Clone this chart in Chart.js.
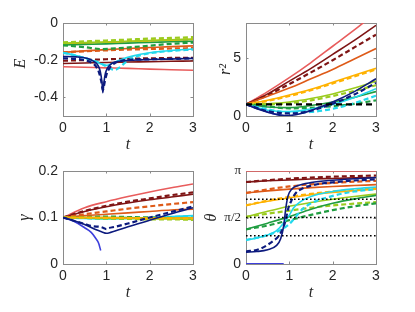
<!DOCTYPE html>
<html><head><meta charset="utf-8">
<script src="https://cdn.jsdelivr.net/npm/chart.js@4.4.1/dist/chart.umd.min.js"></script>
<style>
body{margin:0;background:#fff;width:415px;height:312px;position:relative;overflow:hidden}
canvas{position:absolute}
</style></head>
<body>
<canvas id="cE" width="205" height="156" style="left:0;top:0"></canvas>
<canvas id="cR" width="215" height="156" style="left:200px;top:0"></canvas>
<canvas id="cG" width="205" height="162" style="left:0;top:150px"></canvas>
<canvas id="cT" width="215" height="162" style="left:200px;top:150px"></canvas>
<script>
// ---------- data ----------
const tc = [0,0.5,1,1.5,2,2.5,3];
const PI = Math.PI;

// Energy E
const E_lred   = [-0.235,-0.238,-0.241,-0.244,-0.248,-0.251,-0.254];
const E_dred   = [-0.218,-0.215,-0.212,-0.21,-0.208,-0.206,-0.204];
const E_dred_d = [-0.203,-0.199,-0.195,-0.192,-0.19,-0.188,-0.187];
const E_ored   = [-0.158,-0.15,-0.143,-0.137,-0.132,-0.127,-0.123];
const E_ored_d = [-0.158,-0.152,-0.147,-0.143,-0.14,-0.137,-0.135];
const E_orng   = [-0.112,-0.108,-0.104,-0.1,-0.096,-0.092,-0.089];
const E_orng_d = [-0.11,-0.106,-0.102,-0.098,-0.094,-0.09,-0.087];
const E_ygrn   = [-0.108,-0.105,-0.102,-0.098,-0.094,-0.09,-0.086];
const E_ygrn_d = [-0.104,-0.099,-0.094,-0.089,-0.084,-0.08,-0.076];
const E_grn    = [-0.118,-0.115,-0.112,-0.108,-0.105,-0.101,-0.098];
const E_grn_d_t = [0,0.5,0.9,1.3,2,2.5,3];
const E_grn_d  = [-0.12,-0.13,-0.14,-0.135,-0.122,-0.112,-0.105];
const E_cyan_t = [0,0.3,0.6,0.8,0.9,1.0,1.1,1.3,1.6,2,2.5,3];
const E_cyan   = [-0.16,-0.175,-0.195,-0.212,-0.222,-0.228,-0.22,-0.2,-0.178,-0.16,-0.148,-0.14];
const E_cyan_d_t = [0,0.3,0.6,0.9,1.05,1.2,1.3,1.45,1.7,2,2.5,3];
const E_cyan_d = [-0.16,-0.175,-0.195,-0.22,-0.24,-0.252,-0.24,-0.21,-0.18,-0.163,-0.15,-0.143];
const E_navy_t = [0,0.3,0.55,0.7,0.8,0.86,0.9,0.92,0.94,0.97,1.02,1.1,1.2,1.4,1.8,2.4,3];
const E_navy   = [-0.18,-0.182,-0.19,-0.205,-0.225,-0.26,-0.32,-0.375,-0.33,-0.28,-0.245,-0.222,-0.21,-0.203,-0.198,-0.194,-0.19];
const E_navy_d_t = [0,0.3,0.5,0.65,0.75,0.83,0.88,0.92,0.96,1.0,1.08,1.2,1.35,1.6,2,2.5,3];
const E_navy_d = [-0.19,-0.193,-0.2,-0.212,-0.23,-0.265,-0.31,-0.36,-0.32,-0.28,-0.24,-0.215,-0.203,-0.197,-0.195,-0.193,-0.19];

// r^2
const R_lred   = [1,2.1,3.3,4.6,6.0,7.4,8.9];
const R_dred   = [1,1.9,3.0,4.1,5.3,6.5,7.8];
const R_dred_d = [1,1.8,2.75,3.75,4.8,5.9,7.0];
const R_ored   = [1,1.7,2.4,3.2,4.0,4.9,5.8];
const R_orng   = [1,1.35,1.8,2.3,2.9,3.5,4.1];
const R_orng_d = [1,1.3,1.72,2.22,2.8,3.4,4.0];
const R_ygrn   = [1,1.05,1.2,1.5,1.9,2.4,3.0];
const R_ygrn_d = [1,1.0,1.1,1.35,1.72,2.15,2.65];
const R_grn    = [1,0.78,0.72,0.9,1.2,1.6,2.1];
const R_grn_d  = [1,0.82,0.66,0.7,0.85,1.05,1.35];
const R_cyan   = [1,0.5,0.38,0.6,1.0,1.6,2.35];
const R_cyan_d = [1,0.58,0.3,0.35,0.62,1.1,1.75];
const R_navy_t = [0,0.25,0.5,0.75,0.9,1.05,1.25,1.5,2,2.5,3];
const R_navy   = [1,0.62,0.32,0.1,0.04,0.06,0.2,0.48,1.2,2.1,3.2];
const R_navy_d_t = [0,0.5,1,1.25,1.5,2,2.5,3];
const R_navy_d = [1,0.42,0.22,0.28,0.45,1.05,1.85,2.85];
const R_blue_t = [0,0.3,0.6,0.87];
const R_blue   = [1,0.6,0.22,0.02];
const R_ref_t  = [0,3];
const R_ref    = [1,1];

// gamma
const G_lred   = [0.1,0.121,0.134,0.145,0.155,0.164,0.172];
const G_dred   = [0.1,0.113,0.123,0.131,0.138,0.144,0.150];
const G_dred_d = [0.1,0.114,0.125,0.134,0.141,0.148,0.154];
const G_ored   = [0.1,0.104,0.107,0.110,0.113,0.116,0.118];
const G_ored_d = [0.1,0.107,0.113,0.119,0.124,0.129,0.133];
const G_orng   = [0.1,0.1,0.1,0.099,0.099,0.099,0.099];
const G_orng_d = [0.1,0.1,0.099,0.099,0.098,0.098,0.098];
const G_ygrn   = [0.1,0.099,0.098,0.098,0.097,0.097,0.096];
const G_ygrn_d = [0.1,0.099,0.098,0.097,0.096,0.096,0.095];
const G_grn    = [0.1,0.1,0.1,0.1,0.099,0.099,0.099];
const G_grn_d  = [0.1,0.101,0.102,0.101,0.1,0.099,0.098];
const G_cyan   = [0.1,0.098,0.097,0.098,0.1,0.102,0.104];
const G_cyan_d = [0.1,0.099,0.097,0.097,0.099,0.101,0.103];
const G_navy_t = [0,0.25,0.5,0.75,0.9,1.0,1.1,1.5,2,2.5,3];
const G_navy   = [0.1,0.093,0.085,0.074,0.069,0.066,0.068,0.08,0.094,0.108,0.121];
const G_navy_d_t = [0,0.25,0.5,0.7,0.85,0.95,1.0,1.05,1.2,1.5,2,2.5,3];
const G_navy_d = [0.1,0.093,0.086,0.081,0.08,0.077,0.075,0.077,0.08,0.087,0.1,0.112,0.124];
const G_blue_t = [0,0.25,0.5,0.65,0.75,0.82,0.87];
const G_blue   = [0.1,0.092,0.078,0.068,0.056,0.045,0.029];

// theta
const T_lred   = [PI,PI,PI,PI,PI,PI,PI];
const T_dred   = [2.77,2.81,2.84,2.87,2.89,2.91,2.92];
const T_dred_d = [2.77,2.83,2.88,2.92,2.95,2.97,2.99];
const T_ored   = [2.40,2.47,2.53,2.58,2.62,2.65,2.68];
const T_ored_d = [2.40,2.52,2.62,2.69,2.74,2.78,2.81];
const T_orng   = [1.98,2.12,2.24,2.34,2.42,2.48,2.53];
const T_orng_d = [1.98,2.14,2.27,2.37,2.45,2.51,2.56];
const T_ygrn   = [1.59,1.78,1.95,2.08,2.19,2.28,2.36];
const T_ygrn_d = [1.59,1.70,1.80,1.90,1.98,2.04,2.09];
const T_grn    = [1.17,1.38,1.6,1.85,2.05,2.2,2.32];
const T_grn_d  = [1.17,1.3,1.48,1.66,1.82,1.95,2.05];
const T_cyan_t = [0,0.25,0.5,0.7,0.85,1.0,1.1,1.25,1.5,2,2.5,3];
const T_cyan   = [0.81,0.88,0.98,1.12,1.35,1.65,1.9,2.1,2.28,2.45,2.54,2.6];
const T_cyan_d_t = [0,0.5,0.8,1.0,1.15,1.3,1.5,2,2.5,3];
const T_cyan_d = [0.81,0.98,1.15,1.35,1.6,1.85,2.05,2.3,2.45,2.53];
const T_navy_t = [0,0.25,0.5,0.7,0.8,0.87,0.92,0.97,1.05,1.2,1.5,2,2.5,3];
const T_navy   = [0.4,0.42,0.48,0.62,0.85,1.3,1.9,2.3,2.52,2.65,2.75,2.83,2.88,2.92];
const T_navy_d_t = [0,0.3,0.6,0.78,0.9,0.97,1.05,1.15,1.3,1.6,2,2.5,3];
const T_navy_d = [0.42,0.5,0.75,1.0,1.4,1.85,2.15,2.4,2.55,2.68,2.76,2.82,2.86];
const T_blue_t = [0,0.87];
const T_blue   = [0,0];
const T_ref_t  = [0,3];
const T_magic  = [0.9553, PI/2, 2.1863];

// ticks
const xTicks = [0,1,2,3];
const E_ticks = [0,-0.2,-0.4];
const R_ticks = [0,5];
const G_ticks = [0,0.1,0.2];
const T_ticks = [0, PI/2, PI];
const T_tickLabels = ['0','π/2','π'];

// ---------- styling ----------
const COL = {navy:'#0c1a7e', blue:'#3d3fdc', cyan:'#22d8ec', grn:'#1f9d40', ygrn:'#9acb1e',
             orng:'#ffb200', ored:'#de5a18', dred:'#7e1414', lred:'#e85c5c', black:'#000'};
const SANS = '"Liberation Sans", Arial, sans-serif';
const SERIF = '"Liberation Serif", "DejaVu Serif", serif';

function ser(ts, ys, color, dashed, opts) {
  return Object.assign({
    data: ts.map((t,i)=>({x:t, y:ys[i]})),
    borderColor: color,
    borderWidth: dashed ? 2.2 : 1.6,
    borderDash: dashed ? [5,3] : [],
    pointRadius: 0,
    fill: false,
    cubicInterpolationMode: 'monotone'
  }, opts || {});
}

const framePlugin = {
  id: 'frame',
  beforeDatasetsDraw(chart) {
    const {ctx, chartArea: a, scales} = chart;
    ctx.save();
    ctx.strokeStyle = '#8a8a8a';
    ctx.lineWidth = 1;
    ctx.strokeRect(Math.round(a.left)+0.5, Math.round(a.top)+0.5, Math.round(a.right-a.left), Math.round(a.bottom-a.top));
    const L = 2.5;
    ctx.beginPath();
    scales.x.ticks.forEach(tk => {
      if (tk.value <= scales.x.min || tk.value >= scales.x.max) return;
      const px = Math.round(scales.x.getPixelForValue(tk.value)) + 0.5;
      ctx.moveTo(px, a.bottom); ctx.lineTo(px, a.bottom - L);
      ctx.moveTo(px, a.top); ctx.lineTo(px, a.top + L);
    });
    scales.y.ticks.forEach(tk => {
      if (tk.value <= scales.y.min || tk.value >= scales.y.max) return;
      const py = Math.round(scales.y.getPixelForValue(tk.value)) + 0.5;
      ctx.moveTo(a.left, py); ctx.lineTo(a.left + L, py);
      ctx.moveTo(a.right, py); ctx.lineTo(a.right - L, py);
    });
    ctx.stroke();
    ctx.restore();
  }
};

function makeChart(id, datasets, cfg) {
  const tickFont = {family: SANS, size: 14};
  return new Chart(document.getElementById(id), {
    type: 'line',
    data: {datasets: datasets.slice().reverse()},
    plugins: [framePlugin],
    options: {
      responsive: false,
      animation: false,
      layout: {padding: {left: 0, right: cfg.padR, top: cfg.padT, bottom: 0}},
      plugins: {legend: {display: false}, tooltip: {enabled: false}},
      scales: {
        x: {
          type: 'linear', min: 0, max: 3,
          afterBuildTicks: s => { s.ticks = xTicks.map(v => ({value: v})); },
          afterFit: s => { s.height = cfg.xH; },
          grid: {display: false, drawTicks: false},
          border: {display: false},
          ticks: {color: '#262626', font: tickFont, padding: 4, maxRotation: 0},
          title: {display: true, text: 't', color: '#262626',
                  font: {family: SERIF, size: 16, style: 'italic', lineHeight: 1.2},
                  padding: {top: 0, bottom: cfg.xTitlePad}}
        },
        y: {
          type: 'linear', min: cfg.yMin, max: cfg.yMax,
          afterBuildTicks: s => { s.ticks = cfg.yTicks.map(v => ({value: v})); },
          afterFit: s => { s.width = cfg.yW; },
          grid: {display: false, drawTicks: false},
          border: {display: false},
          ticks: {color: '#262626', font: cfg.yTickFont || tickFont, padding: 5,
                  callback: cfg.yLabel || (v => String(v))},
          title: {display: true, text: cfg.yTitle, color: '#262626',
                  font: {family: SERIF, size: 16, style: 'italic', lineHeight: 1.2},
                  padding: {top: cfg.yTitlePad, bottom: 0}}
        }
      }
    }
  });
}

// ---- E panel ----
makeChart('cE', [
  ser(tc, E_lred, COL.lred, false),
  ser(tc, E_dred, COL.dred, false),
  ser(tc, E_dred_d, COL.dred, true),
  ser(tc, E_ored, COL.ored, false),
  ser(tc, E_ored_d, COL.ored, true),
  ser(tc, E_orng, COL.orng, false),
  ser(tc, E_orng_d, COL.orng, true),
  ser(tc, E_grn, COL.grn, false),
  ser(E_grn_d_t, E_grn_d, COL.grn, true),
  ser(tc, E_ygrn, COL.ygrn, false),
  ser(tc, E_ygrn_d, COL.ygrn, true),
  ser(E_cyan_t, E_cyan, COL.cyan, false),
  ser(E_cyan_d_t, E_cyan_d, COL.cyan, true),
  ser(E_navy_d_t, E_navy_d, COL.navy, true),
  ser(E_navy_t, E_navy, COL.navy, false)
], {padR: 12, padT: 23, xH: 40, yW: 63, yMin: -0.5, yMax: 0, yTicks: E_ticks,
    yTitle: '   E', yTitlePad: 11.2, xTitlePad: 1.5,
    yLabel: v => (v === 0 ? '0' : v.toFixed(1))});

// ---- r^2 panel ----
makeChart('cR', [
  ser(tc, R_lred, COL.lred, false),
  ser(tc, R_dred, COL.dred, false),
  ser(tc, R_dred_d, COL.dred, true),
  ser(tc, R_ored, COL.ored, false),
  ser(tc, R_orng, COL.orng, false),
  ser(tc, R_orng_d, COL.orng, true),
  ser(tc, R_ygrn, COL.ygrn, false),
  ser(tc, R_ygrn_d, COL.ygrn, true),
  ser(tc, R_grn, COL.grn, false),
  ser(tc, R_grn_d, COL.grn, true),
  ser(tc, R_cyan, COL.cyan, false),
  ser(tc, R_cyan_d, COL.cyan, true),
  ser(R_blue_t, R_blue, COL.blue, false),
  ser(R_navy_t, R_navy, COL.navy, false),
  ser(R_navy_d_t, R_navy_d, COL.navy, true),
  ser(R_ref_t, R_ref, COL.black, true, {borderWidth: 2.4, borderDash: [6,4], cubicInterpolationMode: 'default', tension: 0})
], {padR: 39, padT: 23, xH: 40, yW: 46, yMin: 0, yMax: 8, yTicks: R_ticks,
    yTitle: 'r²', yTitlePad: 16.2, xTitlePad: 1.5});

// ---- gamma panel ----
makeChart('cG', [
  ser(tc, G_lred, COL.lred, false),
  ser(tc, G_dred, COL.dred, false),
  ser(tc, G_dred_d, COL.dred, true),
  ser(tc, G_ored, COL.ored, false),
  ser(tc, G_ored_d, COL.ored, true),
  ser(tc, G_cyan, COL.cyan, false),
  ser(tc, G_cyan_d, COL.cyan, true),
  ser(tc, G_grn, COL.grn, false),
  ser(tc, G_grn_d, COL.grn, true),
  ser(tc, G_ygrn, COL.ygrn, false),
  ser(tc, G_ygrn_d, COL.ygrn, true),
  ser(tc, G_orng, COL.orng, false),
  ser(tc, G_orng_d, COL.orng, true),
  ser(G_blue_t, G_blue, COL.blue, false),
  ser(G_navy_t, G_navy, COL.navy, false),
  ser(G_navy_d_t, G_navy_d, COL.navy, true)
], {padR: 12, padT: 21, xH: 48, yW: 63, yMin: 0, yMax: 0.2, yTicks: G_ticks,
    yTitle: 'γ', yTitlePad: 15.5, xTitlePad: 9.2,
    yLabel: v => (v === 0 ? '0' : v.toFixed(1))});

// ---- theta panel ----
const dotted = {borderWidth: 1.6, borderDash: [1.6,2.4], cubicInterpolationMode: 'default', tension: 0};
makeChart('cT', [
  ser(tc, T_lred, COL.lred, false),
  ser(tc, T_dred, COL.dred, false),
  ser(tc, T_dred_d, COL.dred, true),
  ser(tc, T_ored, COL.ored, false),
  ser(tc, T_ored_d, COL.ored, true),
  ser(tc, T_orng, COL.orng, false),
  ser(tc, T_orng_d, COL.orng, true),
  ser(tc, T_ygrn, COL.ygrn, false),
  ser(tc, T_ygrn_d, COL.ygrn, true),
  ser(tc, T_grn, COL.grn, false),
  ser(tc, T_grn_d, COL.grn, true),
  ser(T_cyan_t, T_cyan, COL.cyan, false),
  ser(T_cyan_d_t, T_cyan_d, COL.cyan, true),
  ser(T_blue_t, T_blue, COL.blue, false, {borderWidth: 2}),
  ser(T_navy_d_t, T_navy_d, COL.navy, true),
  ser(T_navy_t, T_navy, COL.navy, false),
  ser(T_ref_t, [T_magic[0],T_magic[0]], COL.black, true, dotted),
  ser(T_ref_t, [T_magic[1],T_magic[1]], COL.black, true, dotted),
  ser(T_ref_t, [T_magic[2],T_magic[2]], COL.black, true, dotted)
], {padR: 39, padT: 21, xH: 48, yW: 46, yMin: 0, yMax: PI, yTicks: T_ticks,
    yTitle: 'θ', yTitlePad: 2.2, xTitlePad: 9.2,
    yLabel: v => { const i = T_ticks.findIndex(t => Math.abs(t - v) < 1e-6); return i >= 0 ? T_tickLabels[i] : ''; },
    yTickFont: ctx => (ctx.tick && ctx.tick.value > 0.1 ? {family: SERIF, size: 13} : {family: SANS, size: 14})});
</script>
</body></html>
